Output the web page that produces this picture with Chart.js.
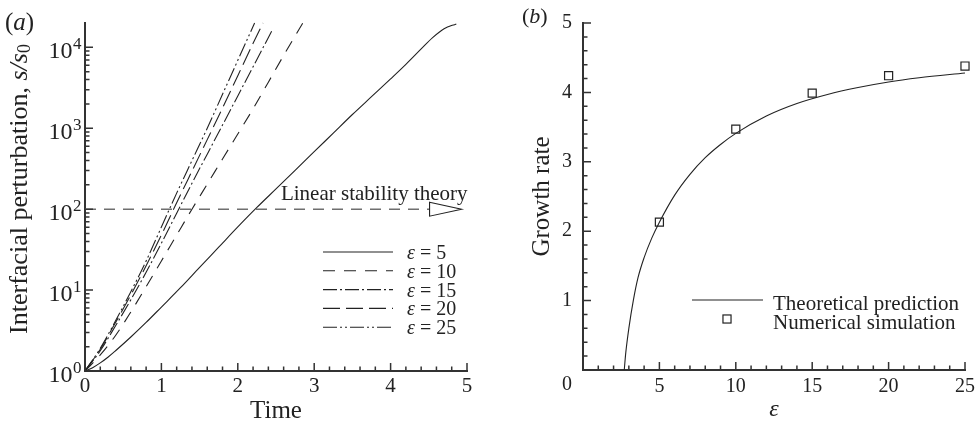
<!DOCTYPE html>
<html>
<head>
<meta charset="utf-8">
<script src="https://cdn.jsdelivr.net/npm/chart.js@4.4.1/dist/chart.umd.min.js"></script>
<style>
  html, body { margin: 0; padding: 0; background: #fff; }
  .wrap { position: relative; width: 979px; height: 426px; overflow: hidden; }
  .panel { position: absolute; top: 0; }
  #pa { left: 0; }
  #pb { left: 490px; }
</style>
</head>
<body>
<div class="wrap">
  <div class="panel" id="pa"><canvas id="growth" width="490" height="426"></canvas></div>
  <div class="panel" id="pb"><canvas id="rate" width="489" height="426"></canvas></div>
</div>
<script>
const FONT = "'Liberation Serif', 'Times New Roman', serif";
const INK = '#222';
const AXIS = '#333';

// ---- (a) amplitude growth, s/s0 against time ----
const T_EPS5  = [0, 0.1, 0.2, 0.3, 0.4, 0.6, 0.8, 1.0, 1.25, 1.5, 1.75, 2.0, 2.25, 2.5, 2.75, 3.0, 3.25, 3.5, 3.75, 4.0, 4.2, 4.4, 4.55, 4.7, 4.86];
const S_EPS5  = [1, 1.10, 1.26, 1.48, 1.78, 2.63, 3.98, 6.17, 10.7, 19.1, 33.9, 60.3, 105, 178, 302, 513, 871, 1479, 2455, 4074, 6166, 9550, 13180, 16980, 19500];
const T_EPS10 = [0, 0.2, 0.4, 0.6, 0.8, 1.0, 1.2, 1.4, 1.6, 1.8, 2.0, 2.2, 2.4, 2.6, 2.85];
const S_EPS10 = [1, 1.58, 2.75, 5.37, 11.0, 22.9, 47.9, 100, 204, 417, 851, 1738, 3715, 7943, 19950];
const T_EPS15 = [0, 0.2, 0.4, 0.6, 0.8, 1.0, 1.2, 1.4, 1.6, 1.8, 2.0, 2.2, 2.46];
const S_EPS15 = [1, 1.78, 3.63, 7.59, 16.6, 38.0, 89.1, 209, 479, 1096, 2512, 5754, 16980];
const T_EPS20 = [0, 0.2, 0.4, 0.6, 0.8, 1.0, 1.2, 1.4, 1.6, 1.8, 2.0, 2.2, 2.33];
const S_EPS20 = [1, 1.86, 3.98, 8.71, 20.0, 47.9, 120, 295, 724, 1778, 4467, 11220, 19950];
const T_EPS25 = [0, 0.2, 0.4, 0.6, 0.8, 1.0, 1.2, 1.4, 1.6, 1.8, 2.0, 2.22];
const S_EPS25 = [1, 1.91, 4.17, 9.55, 22.9, 60.3, 158, 398, 1000, 2630, 6918, 19950];

// linear stability threshold line (ends in an open arrow head)
const LST_T = [0, 4.51];
const LST_S = [100, 100];

const X_TICKS_A = [0, 1, 2, 3, 4, 5];
const Y_DECADES_A = [1, 10, 100, 1000, 10000];
const Y_EXP_A = ['0', '1', '2', '3', '4'];

// y title of (a), drawn piece by piece: plain text, italic ratio, subscript
const Y_TITLE_A = [
  { str: 'Interfacial perturbation, ', style: '', size: 26, shift: 0 },
  { str: 's/s', style: 'italic ', size: 26, shift: 0 },
  { str: '0', style: '', size: 18, shift: 5 }
];

// ---- (b) growth rate against epsilon ----
const EPS_THEORY  = [2.7, 2.8, 3.0, 3.3, 3.6, 4.0, 4.5, 5, 6, 7, 8, 9, 10, 12, 14, 16, 18, 20, 22, 25];
const RATE_THEORY = [0, 0.25, 0.6, 1.01, 1.33, 1.62, 1.9, 2.13, 2.52, 2.82, 3.06, 3.25, 3.41, 3.66, 3.84, 3.97, 4.07, 4.15, 4.21, 4.28];
const EPS_NUM  = [5, 10, 15, 20, 25];
const RATE_NUM = [2.13, 3.47, 3.99, 4.24, 4.38];

const X_TICKS_B = [0, 5, 10, 15, 20, 25];
const Y_TICKS_B = [0, 1, 2, 3, 4, 5];

function pts(xs, ys) { return xs.map((x, i) => ({ x, y: ys[i] })); }

function curve(label, xs, ys, dash) {
  return {
    label, data: pts(xs, ys), borderColor: INK, borderWidth: 1.1, borderDash: dash,
    pointRadius: 0, fill: false, cubicInterpolationMode: 'monotone', clip: false, inLegend: true
  };
}

function range(a, b, step) {
  const out = [];
  for (let v = a; v <= b + 1e-9; v += step) out.push(+v.toFixed(6));
  return out;
}

// minor tick positions for the log axis: 2..9 x 10^n
const logMinor = [];
Y_DECADES_A.forEach(d => { for (let k = 2; k <= 9; k++) if (d * k < 20000) logMinor.push(d * k); });

// ---- plugins ----
const innerTicks = {
  id: 'innerTicks',
  afterDraw(chart, _a, o) {
    const { ctx, chartArea: a, scales: { x, y } } = chart;
    ctx.save();
    ctx.strokeStyle = AXIS;
    ctx.lineWidth = 1.5;
    ctx.beginPath();
    const vx = (v, len) => { const p = x.getPixelForValue(v); ctx.moveTo(p, a.bottom); ctx.lineTo(p, a.bottom - len); };
    const hy = (v, len) => { const p = y.getPixelForValue(v); ctx.moveTo(a.left, p); ctx.lineTo(a.left + len, p); };
    o.xMajor.forEach(v => vx(v, o.major));
    o.xMinor.forEach(v => vx(v, o.minor));
    o.yMajor.forEach(v => hy(v, o.major));
    o.yMinor.forEach(v => hy(v, o.minor));
    ctx.stroke();
    ctx.restore();
  }
};

const decadeLabels = {
  id: 'decadeLabels',
  afterDraw(chart) {
    const { ctx, chartArea: a, scales: { y } } = chart;
    ctx.save();
    ctx.fillStyle = INK;
    ctx.textBaseline = 'alphabetic';
    ctx.textAlign = 'left';
    Y_DECADES_A.forEach((v, i) => {
      const py = y.getPixelForValue(v);
      ctx.font = `24px ${FONT}`;
      const wb = ctx.measureText('10').width;
      ctx.font = `17px ${FONT}`;
      const we = ctx.measureText(Y_EXP_A[i]).width;
      const x0 = a.left - 4 - we - wb;
      ctx.font = `24px ${FONT}`;
      ctx.fillText('10', x0, py + 10.5);
      ctx.font = `17px ${FONT}`;
      ctx.fillText(Y_EXP_A[i], x0 + wb + 0.5, py + 1.5);
    });
    ctx.restore();
  }
};

const sideTitle = {
  id: 'sideTitle',
  afterDraw(chart, _a, o) {
    const { ctx, chartArea: a } = chart;
    ctx.save();
    ctx.fillStyle = INK;
    ctx.textBaseline = 'middle';
    ctx.textAlign = 'left';
    let total = 0;
    const widths = Y_TITLE_A.map(r => {
      ctx.font = `${r.style}${r.size}px ${FONT}`;
      const w = ctx.measureText(r.str).width;
      total += w;
      return w;
    });
    ctx.translate(o.x, (a.top + a.bottom) / 2 + o.dy);
    ctx.rotate(-Math.PI / 2);
    let cx = -total / 2;
    Y_TITLE_A.forEach((r, i) => {
      ctx.font = `${r.style}${r.size}px ${FONT}`;
      ctx.fillText(r.str, cx, r.shift);
      cx += widths[i];
    });
    ctx.restore();
  }
};

const curveLegend = {
  id: 'curveLegend',
  afterDraw(chart, _a, o) {
    const { ctx } = chart;
    ctx.save();
    chart.data.datasets.filter(d => d.inLegend).forEach((d, i) => {
      const y = o.y + i * o.step;
      ctx.strokeStyle = d.borderColor;
      ctx.lineWidth = d.borderWidth;
      ctx.setLineDash(d.borderDash || []);
      ctx.beginPath(); ctx.moveTo(o.x0, y); ctx.lineTo(o.x1, y); ctx.stroke();
      ctx.setLineDash([]);
      ctx.fillStyle = INK;
      ctx.textBaseline = 'alphabetic';
      const sym = d.label.slice(0, 1), rest = d.label.slice(1);
      ctx.font = `italic ${o.size}px ${FONT}`;
      ctx.fillText(sym, o.tx, y + o.base);
      const w = ctx.measureText(sym).width;
      ctx.font = `${o.size}px ${FONT}`;
      ctx.fillText(rest, o.tx + w, y + o.base);
    });
    ctx.restore();
  }
};

const stabilityNote = {
  id: 'stabilityNote',
  afterDatasetsDraw(chart) {
    const { ctx, scales: { x, y } } = chart;
    const last = chart.data.datasets.find(d => d.arrowEnd);
    const bx = x.getPixelForValue(LST_T[LST_T.length - 1]);
    const by = y.getPixelForValue(LST_S[LST_S.length - 1]);
    ctx.save();
    ctx.strokeStyle = INK;
    ctx.lineWidth = 1.1;
    ctx.fillStyle = '#fff';
    ctx.beginPath();
    ctx.moveTo(bx, by - 7); ctx.lineTo(bx + 32, by); ctx.lineTo(bx, by + 7); ctx.closePath();
    ctx.fill(); ctx.stroke();
    ctx.fillStyle = INK;
    ctx.font = `21px ${FONT}`;
    ctx.textAlign = 'right';
    ctx.textBaseline = 'alphabetic';
    ctx.fillText(last.label, bx + 38, by - 9);
    ctx.restore();
  }
};

const panelTag = {
  id: 'panelTag',
  afterDraw(chart, _a, o) {
    const { ctx } = chart;
    ctx.save();
    ctx.fillStyle = INK;
    ctx.textBaseline = 'alphabetic';
    let x = o.x;
    [['(', ''], [o.letter, 'italic '], [')', '']].forEach(([t, st]) => {
      ctx.font = `${st}${o.size}px ${FONT}`;
      ctx.fillText(t, x, o.y);
      x += ctx.measureText(t).width;
    });
    ctx.restore();
  }
};

const rateLegend = {
  id: 'rateLegend',
  afterDraw(chart, _a, o) {
    const { ctx } = chart;
    const [theory, num] = chart.data.datasets;
    ctx.save();
    ctx.strokeStyle = theory.borderColor;
    ctx.lineWidth = theory.borderWidth;
    ctx.beginPath(); ctx.moveTo(o.x0, o.y); ctx.lineTo(o.x1, o.y); ctx.stroke();
    const side = num.pointRadius * Math.SQRT2;
    ctx.lineWidth = num.borderWidth;
    ctx.strokeStyle = num.borderColor;
    ctx.strokeRect(o.sx - side / 2, o.sy - side / 2, side, side);
    ctx.fillStyle = INK;
    ctx.font = `${o.size}px ${FONT}`;
    ctx.textBaseline = 'alphabetic';
    ctx.fillText(theory.label, o.tx, o.b1);
    ctx.fillText(num.label, o.tx, o.b2);
    ctx.restore();
  }
};

const cornerZero = {
  id: 'cornerZero',
  afterDraw(chart, _a, o) {
    const { ctx, chartArea: a } = chart;
    ctx.save();
    ctx.fillStyle = INK;
    ctx.font = `${o.size}px ${FONT}`;
    ctx.textAlign = 'center';
    ctx.textBaseline = 'middle';
    ctx.fillText(String(X_TICKS_B[0]), a.left - 16, a.bottom + 15);
    ctx.restore();
  }
};

const tickFont = size => ({ family: FONT, size });

// ---- (a) ----
new Chart(document.getElementById('growth'), {
  type: 'line',
  data: {
    datasets: [
      curve('ε = 5', T_EPS5, S_EPS5, []),
      curve('ε = 10', T_EPS10, S_EPS10, [12, 9]),
      curve('ε = 15', T_EPS15, S_EPS15, [14, 3, 2, 3]),
      curve('ε = 20', T_EPS20, S_EPS20, [17, 6]),
      curve('ε = 25', T_EPS25, S_EPS25, [14, 3, 2, 3, 2, 3]),
      { label: 'Linear stability theory', data: pts(LST_T, LST_S), borderColor: '#6f6f6f', borderWidth: 1.6,
        borderDash: [11, 8], pointRadius: 0, fill: false, arrowEnd: true }
    ]
  },
  options: {
    responsive: false,
    animation: false,
    layout: { padding: { top: 23, right: 23, left: 0, bottom: 0 } },
    plugins: {
      legend: { display: false },
      tooltip: { enabled: false },
      innerTicks: { xMajor: X_TICKS_A, xMinor: range(0, 5, 0.2), yMajor: Y_DECADES_A, yMinor: logMinor, major: 8, minor: 4.5 },
      sideTitle: { x: 20, dy: -8 },
      curveLegend: { x0: 323, x1: 393, tx: 407, y: 252, step: 18.8, size: 20, base: 7 },
      panelTag: { x: 5, y: 30, letter: 'a', size: 25 }
    },
    scales: {
      x: {
        type: 'linear', min: 0, max: 5,
        afterFit: s => { s.height = 55; s.paddingLeft = 0; s.paddingRight = 0; },
        afterBuildTicks: s => { s.ticks = X_TICKS_A.map(value => ({ value })); },
        grid: { display: false, drawTicks: false },
        border: { color: AXIS, width: 2 },
        ticks: { font: tickFont(21), color: INK, padding: 3, maxRotation: 0 },
        title: { display: true, text: 'Time', color: INK, font: { family: FONT, size: 25 }, padding: { top: 0, bottom: 0 } }
      },
      y: {
        type: 'logarithmic', min: 1, max: 20000,
        afterFit: s => { s.width = 85; s.paddingTop = 0; s.paddingBottom = 0; },
        afterBuildTicks: s => { s.ticks = Y_DECADES_A.map(value => ({ value })); },
        grid: { display: false, drawTicks: false },
        border: { color: AXIS, width: 2 },
        ticks: { display: false }
      }
    }
  },
  plugins: [innerTicks, decadeLabels, sideTitle, curveLegend, stabilityNote, panelTag]
});

// ---- (b) ----
new Chart(document.getElementById('rate'), {
  type: 'line',
  data: {
    datasets: [
      { label: 'Theoretical prediction', data: pts(EPS_THEORY, RATE_THEORY), borderColor: INK, borderWidth: 1.1,
        pointRadius: 0, fill: false, cubicInterpolationMode: 'monotone', clip: false },
      { label: 'Numerical simulation', data: pts(EPS_NUM, RATE_NUM), showLine: false, pointStyle: 'rect',
        pointRadius: 5.7, borderColor: INK, borderWidth: 1.2, backgroundColor: 'rgba(255,255,255,0)', clip: false }
    ]
  },
  options: {
    responsive: false,
    animation: false,
    layout: { padding: { top: 23, right: 14, left: 0, bottom: 0 } },
    plugins: {
      legend: { display: false },
      tooltip: { enabled: false },
      innerTicks: { xMajor: X_TICKS_B, xMinor: range(0, 25, 1), yMajor: Y_TICKS_B, yMinor: range(0, 5, 0.2), major: 8, minor: 4.5 },
      rateLegend: { x0: 202, x1: 273, y: 300, sx: 237, sy: 319, tx: 283, b1: 310, b2: 329, size: 21 },
      panelTag: { x: 32, y: 23, letter: 'b', size: 22 },
      cornerZero: { size: 20 }
    },
    scales: {
      x: {
        type: 'linear', min: 0, max: 25,
        afterFit: s => { s.height = 56; s.paddingLeft = 0; s.paddingRight = 0; },
        afterBuildTicks: s => { s.ticks = X_TICKS_B.map(value => ({ value })); },
        grid: { display: false, drawTicks: false },
        border: { color: AXIS, width: 2 },
        ticks: { font: tickFont(20), color: INK, padding: 5, maxRotation: 0, callback: v => (v === 0 ? '' : v) },
        title: { display: true, text: 'ε', color: INK, font: { family: FONT, size: 24, style: 'italic' }, padding: { top: 0, bottom: 2 } }
      },
      y: {
        type: 'linear', min: 0, max: 5,
        afterFit: s => { s.width = 93; s.paddingTop = 0; s.paddingBottom = 0; },
        afterBuildTicks: s => { s.ticks = Y_TICKS_B.map(value => ({ value })); },
        grid: { display: false, drawTicks: false },
        border: { color: AXIS, width: 2 },
        ticks: { font: tickFont(20), color: INK, padding: 11, callback: v => (v === 0 ? '' : v) },
        title: { display: true, text: 'Growth rate', color: INK, font: { family: FONT, size: 25 }, padding: { top: 37, bottom: 0 } }
      }
    }
  },
  plugins: [innerTicks, rateLegend, panelTag, cornerZero]
});
</script>
</body>
</html>
